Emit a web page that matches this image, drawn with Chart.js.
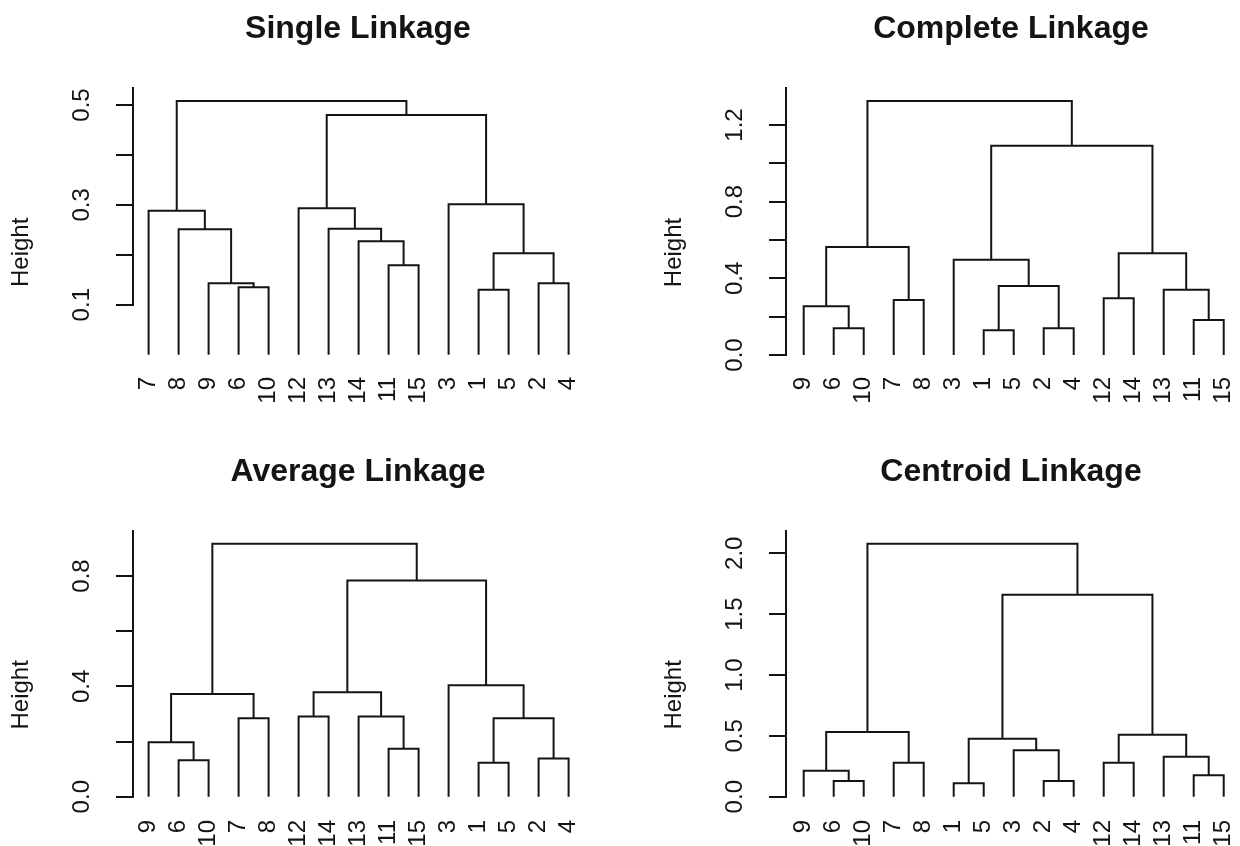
<!DOCTYPE html>
<html>
<head>
<meta charset="utf-8">
<script src="https://cdn.jsdelivr.net/npm/chart.js@4.4.1/dist/chart.umd.min.js"></script>
<style>
  body { margin: 0; background: #fff; }
  #wrap { position: relative; width: 1240px; height: 846px; overflow: hidden; }
  canvas { position: absolute; }
</style>
</head>
<body>
<div id="wrap">
  <canvas id="single" width="620" height="443" style="left:0;top:0"></canvas>
  <canvas id="complete" width="587" height="443" style="left:653px;top:0"></canvas>
  <canvas id="average" width="620" height="403" style="left:0;top:443px"></canvas>
  <canvas id="centroid" width="587" height="403" style="left:653px;top:443px"></canvas>
</div>
<script>
// Merges in hclust style: negative = observation, positive = earlier merge step
const yTitle = 'Height';

const singleOrder = [7, 8, 9, 6, 10, 12, 13, 14, 11, 15, 3, 1, 5, 2, 4];
const singleMerge = [[-6, -10], [-9, 1], [-8, 2], [-7, 3], [-11, -15], [-14, 5], [-13, 6], [-12, 7],
                     [-1, -5], [-2, -4], [9, 10], [-3, 11], [8, 12], [4, 13]];
const singleHeight = [0.135, 0.143, 0.251, 0.288, 0.179, 0.227, 0.252, 0.293,
                      0.130, 0.143, 0.203, 0.301, 0.480, 0.508];
const singleTicks = [0.1, 0.2, 0.3, 0.4, 0.5];
const singleTickLabels = ['0.1', '', '0.3', '', '0.5'];

const completeOrder = [9, 6, 10, 7, 8, 3, 1, 5, 2, 4, 12, 14, 13, 11, 15];
const completeMerge = [[-6, -10], [-9, 1], [-7, -8], [2, 3], [-1, -5], [-2, -4], [5, 6], [-3, 7],
                       [-12, -14], [-11, -15], [-13, 10], [9, 11], [8, 12], [4, 13]];
const completeHeight = [0.139, 0.254, 0.287, 0.563, 0.129, 0.139, 0.360, 0.497,
                        0.296, 0.183, 0.341, 0.531, 1.092, 1.325];
const completeTicks = [0, 0.2, 0.4, 0.6, 0.8, 1.0, 1.2];
const completeTickLabels = ['0.0', '', '0.4', '', '0.8', '', '1.2'];

const averageOrder = [9, 6, 10, 7, 8, 12, 14, 13, 11, 15, 3, 1, 5, 2, 4];
const averageMerge = [[-6, -10], [-9, 1], [-7, -8], [2, 3], [-12, -14], [-11, -15], [-13, 6], [5, 7],
                      [-1, -5], [-2, -4], [9, 10], [-3, 11], [8, 12], [4, 13]];
const averageHeight = [0.132, 0.197, 0.284, 0.372, 0.291, 0.174, 0.291, 0.379,
                       0.123, 0.138, 0.284, 0.404, 0.784, 0.917];
const averageTicks = [0, 0.2, 0.4, 0.6, 0.8];
const averageTickLabels = ['0.0', '', '0.4', '', '0.8'];

const centroidOrder = [9, 6, 10, 7, 8, 1, 5, 3, 2, 4, 12, 14, 13, 11, 15];
const centroidMerge = [[-6, -10], [-9, 1], [-7, -8], [2, 3], [-1, -5], [-2, -4], [-3, 6], [5, 7],
                       [-12, -14], [-11, -15], [-13, 10], [9, 11], [8, 12], [4, 13]];
const centroidHeight = [0.129, 0.214, 0.279, 0.532, 0.110, 0.129, 0.381, 0.477,
                        0.279, 0.176, 0.329, 0.509, 1.660, 2.079];
const centroidTicks = [0, 0.5, 1.0, 1.5, 2.0];
const centroidTickLabels = ['0.0', '0.5', '1.0', '1.5', '2.0'];

const ink = '#141414';
Chart.defaults.font.family = '"Liberation Sans", Arial, sans-serif';
Chart.defaults.color = ink;

// one dataset per merge: left leg, crossbar, right leg
function dendroDatasets(order, merge, height) {
    const leafX = {};
    order.forEach((obs, i) => { leafX[obs] = i + 1; });
    const nodeX = [];
    return merge.map((pair, k) => {
        const [a, b] = pair.map(c => c < 0 ? { x: leafX[-c], y: 0 } : { x: nodeX[c - 1], y: height[c - 1] });
        nodeX[k] = (a.x + b.x) / 2;
        return {
            data: [a, { x: a.x, y: height[k] }, { x: b.x, y: height[k] }, b],
            borderColor: ink,
            borderWidth: 2,
            pointRadius: 0,
            tension: 0,
            clip: false
        };
    });
}

// y axis label, centred like R does (on the plot region, not the axis)
const heightLabel = {
    id: 'heightLabel',
    afterDraw(chart) {
        const { ctx, chartArea, scales } = chart;
        const y = (chartArea.top + scales.y.getPixelForValue(0)) / 2 + 31;
        ctx.save();
        ctx.translate(21, y);
        ctx.rotate(-Math.PI / 2);
        ctx.font = '24px "Liberation Sans", Arial, sans-serif';
        ctx.fillStyle = ink;
        ctx.textAlign = 'center';
        ctx.textBaseline = 'middle';
        ctx.fillText(yTitle, 0, 0);
        ctx.restore();
    }
};

function makeChart(id, p) {
    const canvas = document.getElementById(id);
    return new Chart(canvas, {
        type: 'line',
        data: { datasets: dendroDatasets(p.order, p.merge, p.height) },
        plugins: [heightLabel],
        options: {
            responsive: false,
            animation: false,
            layout: { padding: { left: 0, top: 0, right: p.padRight, bottom: 0 } },
            plugins: {
                legend: { display: false },
                tooltip: { enabled: false },
                title: {
                    display: true,
                    text: p.title,
                    fullSize: false,
                    color: ink,
                    font: { size: 32, weight: 'bold' },
                    padding: { top: 9.5, bottom: 40.1 }
                }
            },
            scales: {
                x: {
                    type: 'linear',
                    min: p.xMin,
                    max: p.xMin + 15,
                    grid: { display: false, drawTicks: false },
                    border: { display: false },
                    afterBuildTicks: s => { s.ticks = p.order.map((_, i) => ({ value: i + 1 })); },
                    afterFit: s => {
                        s.height = canvas.height - p.bottom;
                        // keep the rotated leaf labels from squeezing the plot sideways
                        s.paddingLeft = 0;
                        s.paddingRight = 0;
                    },
                    ticks: {
                        autoSkip: false,
                        minRotation: 90,
                        maxRotation: 90,
                        padding: 377 - p.bottom,
                        font: { size: 24 },
                        color: ink,
                        callback: v => String(p.order[Math.round(v) - 1])
                    }
                },
                y: {
                    type: 'linear',
                    min: p.yMin,
                    max: p.yMax,
                    grid: { drawOnChartArea: false, tickLength: 17, color: ink, lineWidth: 2 },
                    border: { display: true, color: ink, width: 2 },
                    afterBuildTicks: s => { s.ticks = p.ticks.map(v => ({ value: v })); },
                    afterFit: s => { s.width = 133; },
                    ticks: {
                        autoSkip: false,
                        minRotation: 90,
                        maxRotation: 90,
                        crossAlign: 'center',
                        padding: 17,
                        font: { size: 24 },
                        color: ink,
                        callback: (v, i) => p.tickLabels[i]
                    }
                }
            }
        }
    });
}

makeChart('single', {
    title: 'Single Linkage', order: singleOrder, merge: singleMerge, height: singleHeight,
    ticks: singleTicks, tickLabels: singleTickLabels,
    yMin: 0.1, yMax: 0.534, xMin: 0.48, bottom: 304.7, padRight: 37
});
makeChart('complete', {
    title: 'Complete Linkage', order: completeOrder, merge: completeMerge, height: completeHeight,
    ticks: completeTicks, tickLabels: completeTickLabels,
    yMin: 0, yMax: 1.393, xMin: 0.41, bottom: 355, padRight: 4
});
makeChart('average', {
    title: 'Average Linkage', order: averageOrder, merge: averageMerge, height: averageHeight,
    ticks: averageTicks, tickLabels: averageTickLabels,
    yMin: 0, yMax: 0.963, xMin: 0.48, bottom: 353.7, padRight: 37
});
makeChart('centroid', {
    title: 'Centroid Linkage', order: centroidOrder, merge: centroidMerge, height: centroidHeight,
    ticks: centroidTicks, tickLabels: centroidTickLabels,
    yMin: 0, yMax: 2.183, xMin: 0.41, bottom: 353.7, padRight: 4
});
</script>
</body>
</html>
